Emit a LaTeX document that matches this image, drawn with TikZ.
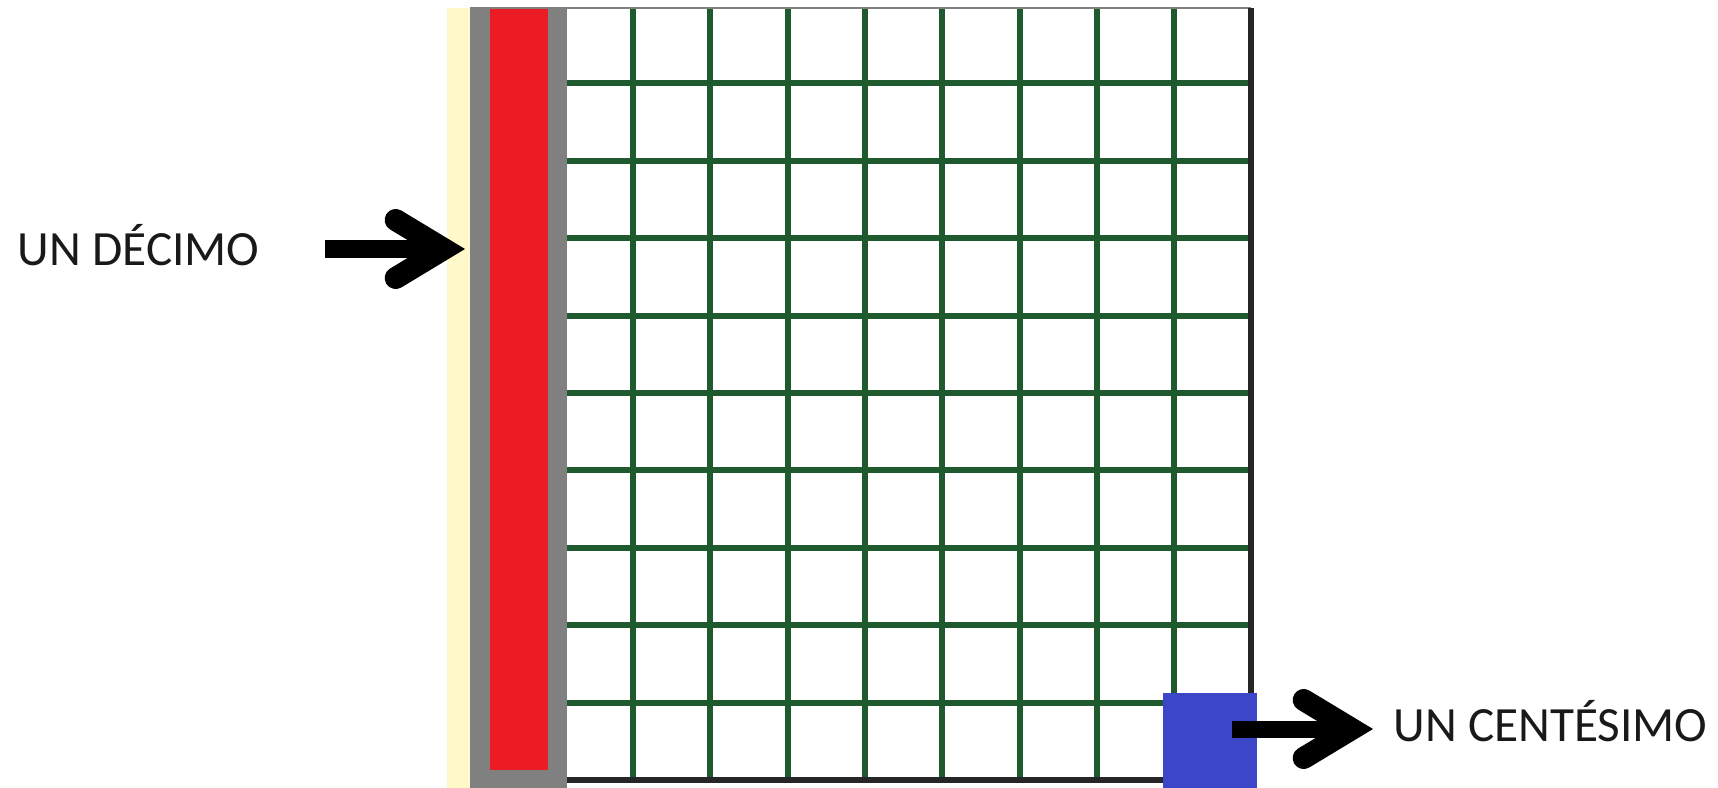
\documentclass[tikz,border=0pt]{standalone}
\usepackage{fontspec}
\setmainfont{Carlito}
\usetikzlibrary{arrows.meta}
\definecolor{cream}{HTML}{FFF8C8}
\definecolor{slate}{HTML}{808080}
\definecolor{tenthred}{HTML}{EC1C24}
\definecolor{gridgreen}{HTML}{1F5A2E}
\definecolor{hundblue}{HTML}{3C46C8}

\begin{document}
\begin{tikzpicture}[x=0.01cm,y=-0.01cm,
 lbl/.style={font=\fontsize{14}{16}\selectfont,text=black!90,inner sep=0pt,anchor=base west},
 arr/.style={-{Straight Barb[length=4.8mm,width=5.8mm,line width=0.5mm 1,line cap=round,line join=miter]},line width=1.7mm,black},
 gridline/.style={gridgreen,line width=0.6mm}]
\useasboundingbox (0,0) rectangle (1718,788);
% the tenth: strip at the left
\fill[cream] (447,8) rectangle (470,788);
\fill[slate] (470,8) rectangle (567,788);
\fill[tenthred] (490,8) rectangle (548,770);
% the hundred grid
\fill[white] (567,8) rectangle (1251,780);
\foreach \i in {0,...,7} \draw[gridline] (633+77.3*\i,8) -- (633+77.3*\i,780);
\foreach \j in {1,...,9} \draw[gridline] (567,6+77.4*\j) -- (1251,6+77.4*\j);
\draw[slate,line width=0.25mm] (470,8) -- (1251,8);
\draw[black!85,line width=0.6mm] (567,780) -- (1251,780) -- (1251,8);
\fill[hundblue] (1163,693) rectangle (1257,788);
% labels
\node[lbl] (decimo) at (17,265) {UN DÉCIMO};
\node[lbl] (centesimo) at (1393,741) {UN CENTÉSIMO};
\coordinate (decimoTail) at (325,249);
\coordinate (stripEdge) at (465,249);
\coordinate (centTail) at (1232,729);
\draw[arr] (decimoTail) -- (stripEdge);
\draw[arr,shorten >=0.2cm] (centTail) -- (centesimo.west |- centTail);
\end{tikzpicture}
\end{document}
